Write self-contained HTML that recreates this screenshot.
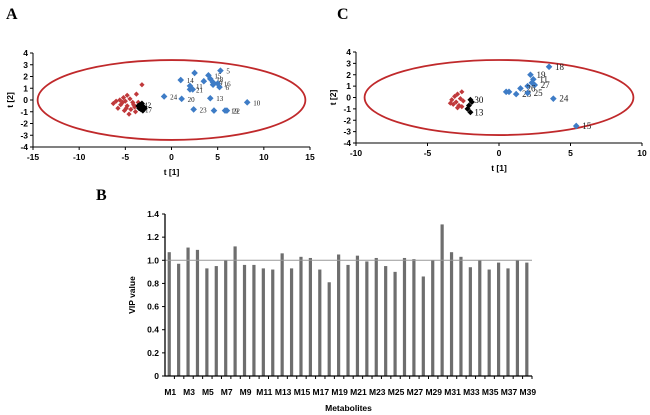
<!DOCTYPE html>
<html><head><meta charset="utf-8"><style>
body{margin:0;background:#fff;width:650px;height:415px;overflow:hidden}
svg{display:block;font-family:"Liberation Sans",Arial,sans-serif}
.tk{font-size:8.5px;font-weight:bold;fill:#000}
.pl{font-family:"Liberation Serif",serif;font-size:16px;font-weight:bold}
</style></head><body>
<svg id="s" width="650" height="415" viewBox="0 0 650 415">
<text class="pl" x="6" y="19">A</text>
<text class="pl" x="337" y="19">C</text>
<text class="pl" x="96" y="200">B</text>
</svg>
<script>
// Panel A data
const aBlueX=[5.3,2.5,4.0,1.0,3.5,4.2,4.5,5.0,4.5,5.2,2.0,2.0,2.3,-0.8,1.1,4.2,8.2,2.4,4.6,6.0,5.8];
const aBlueY=[2.5,2.3,2.1,1.7,1.6,1.8,1.5,1.4,1.3,1.1,1.2,0.9,0.9,0.3,0.1,0.15,-0.2,-0.8,-0.9,-0.9,-0.9];
const aBlueLab=["5","","15","14","","18","9","16","","6","11","21","","24","20","13","10","23","","22","19"];
const aRedX=[-3.2,-3.8,-4.8,-5.2,-5.6,-6.0,-6.3,-5.0,-4.5,-4.2,-5.5,-4.8,-4.0,-5.8,-4.4,-3.9,-5.1,-4.6,-5.3,-4.1,-4.9,-3.6];
const aRedY=[1.3,0.5,0.4,0.2,0.0,-0.1,-0.3,-0.1,0.1,-0.2,-0.4,-0.5,-0.6,-0.7,-0.8,-1.0,-0.9,-1.2,-0.2,-0.4,-0.7,-0.2];
const aBlkX=[-3.4,-3.2,-3.0,-3.5,-3.3,-3.1,-2.9,-3.6,-3.2];
const aBlkY=[-0.4,-0.5,-0.6,-0.7,-0.8,-0.9,-0.7,-0.5,-0.3];
const aBlkLab=["42","","","","17","","","",""];
const aXTicks=[-15,-10,-5,0,5,10,15];
const yTicks=[4,3,2,1,0,-1,-2,-3,-4];
// Panel C data
const cBlueX=[3.5,2.2,2.4,2.3,2.5,2.0,1.5,0.5,0.7,1.2,2.0,3.8,5.4];
const cBlueY=[2.7,2.0,1.6,1.3,1.1,1.0,0.8,0.5,0.5,0.3,0.4,-0.1,-2.5];
const cBlueLab=["18","19","11","","27","","26","","","28","25","24","15"];
const cRedX=[-2.6,-2.9,-3.1,-3.3,-2.7,-3.0,-3.2,-2.8,-2.5,-3.4,-2.9,-2.6];
const cRedY=[0.5,0.3,0.1,-0.2,-0.1,-0.4,-0.6,-0.7,-0.3,-0.5,-0.9,-0.8];
const cBlkX=[-2.0,-1.9,-2.1,-2.2,-2.0];
const cBlkY=[-0.2,-0.4,-0.7,-1.0,-1.3];
const cBlkLab=["30","","","","13"];
const cXTicks=[-10,-5,0,5,10];
// Panel B data
const cats=["M1","M2","M3","M4","M5","M6","M7","M8","M9","M10","M11","M12","M13","M14","M15","M16","M17","M18","M19","M20","M21","M22","M23","M24","M25","M26","M27","M28","M29","M30","M31","M32","M33","M34","M35","M36","M37","M38","M39"];
const vip=[1.07,0.97,1.11,1.09,0.93,0.95,1.0,1.12,0.96,0.96,0.93,0.92,1.06,0.93,1.03,1.02,0.92,0.81,1.05,0.96,1.04,0.99,1.02,0.95,0.90,1.02,1.01,0.86,1.0,1.31,1.07,1.03,0.94,1.0,0.92,0.98,0.93,1.0,0.98];
const bTicks=["0","0.2","0.4","0.6","0.8","1.0","1.2","1.4"];

const NS="http://www.w3.org/2000/svg",svg=document.getElementById('s');
function mk(t,a,p,txt){const e=document.createElementNS(NS,t);for(const k in a)e.setAttribute(k,a[k]);if(txt!==undefined)e.textContent=txt;(p||svg).appendChild(e);return e;}

function scatter(name,x0,x1,y0,y1,xmin,xmax,xt,ex,ey,bx,by,bl,rx,ry,kx,ky,kl,lf){
  const g=mk('g',{});
  
  
  const sx=v=>x0+(v-xmin)/(xmax-xmin)*(x1-x0), sy=v=>y1-(v+4)/8*(y1-y0);
  const el=mk('ellipse',{cx:sx(0),cy:sy(0),rx:sx(ex)-sx(0),ry:sy(0)-sy(ey),fill:'none',stroke:'#c0292b','stroke-width':1.8},g);
  
  
  const ax=mk('path',{d:`M${x0},${y0}V${y1}H${x1}`,fill:'none',stroke:'#000','stroke-width':1},g);
  
  
  yTicks.forEach(v=>{mk('line',{x1:x0-3,x2:x0,y1:sy(v),y2:sy(v),stroke:'#000'},g);
    const t=mk('text',{x:x0-5,y:sy(v)+3,'text-anchor':'end',class:'tk'},g,v);
    
    });
  xt.forEach(v=>{mk('line',{x1:sx(v),x2:sx(v),y1:y1,y2:y1+3,stroke:'#000'},g);
    const t=mk('text',{x:sx(v),y:y1+13,'text-anchor':'middle',class:'tk'},g,v);
    
    });
  const xl=mk('text',{x:(x0+x1)/2,y:y1+28,'text-anchor':'middle',class:'tk','font-size':9},g,'t [1]');
  
  
  const yl=mk('text',{x:0,y:0,'text-anchor':'middle',class:'tk',transform:`translate(${x0-20},${(y0+y1)/2}) rotate(-90)`},g,'t [2]');
  
  
  const dia=(x,y,c,s)=>mk('path',{d:`M${x},${y-s}L${x+s},${y}L${x},${y+s}L${x-s},${y}Z`,fill:c},g);
  rx.forEach((v,i)=>{const d=dia(sx(v),sy(ry[i]),'#c0393b',2.6);});
  kx.forEach((v,i)=>{const d=dia(sx(v),sy(ky[i]),'#000',3);
    if(kl[i])mk('text',{x:sx(v)+4,y:sy(ky[i])+3,'font-size':lf,'font-family':'Liberation Serif,serif'},g,kl[i]);});
  bx.forEach((v,i)=>{const d=dia(sx(v),sy(by[i]),'#3e7cc6',3.3);
    if(bl[i])mk('text',{x:sx(v)+6,y:sy(by[i])+3,'font-size':lf,'font-family':'Liberation Serif,serif',fill:'#222'},g,bl[i]);});
}
scatter('score-plot-a',33,310,53,147,-15,15,aXTicks,14.5,3.4,aBlueX,aBlueY,aBlueLab,aRedX,aRedY,aBlkX,aBlkY,aBlkLab,7);
scatter('score-plot-c',356,642,52,143,-10,10,cXTicks,9.4,3.3,cBlueX,cBlueY,cBlueLab,cRedX,cRedY,cBlkX,cBlkY,cBlkLab,9);

// Bar chart
const g=mk('g',{});


const bx0=165,bx1=532,by0=214,by1=376,step=(bx1-bx0)/cats.length;
const ys=v=>by1-v/1.4*(by1-by0);
cats.forEach((c,i)=>{const cx=bx0+step*(i+0.45);
  const r=mk('rect',{x:cx-1.6,y:ys(vip[i]),width:3.2,height:by1-ys(vip[i]),fill:'#6e6e6e'},g);
  
  
  if(i%2==0){const t=mk('text',{x:cx+1,y:395,'text-anchor':'middle',class:'tk','font-size':8},g,c);
    
    }
  mk('line',{x1:bx0+step*(i+1),x2:bx0+step*(i+1),y1:by1,y2:by1+3,stroke:'#000'},g);
});
const rl=mk('line',{x1:bx0,x2:bx1,y1:ys(1),y2:ys(1),stroke:'#999','stroke-width':1},g);


const bax=mk('path',{d:`M${bx0},${by0}V${by1}H${bx1}`,fill:'none',stroke:'#000','stroke-width':1.3},g);


bTicks.forEach(s=>{const v=parseFloat(s);mk('line',{x1:bx0-3,x2:bx0,y1:ys(v),y2:ys(v),stroke:'#000'},g);
  const t=mk('text',{x:bx0-6,y:ys(v)+3,'text-anchor':'end',class:'tk'},g,s);
  
  });
const bxl=mk('text',{x:(bx0+bx1)/2,y:411,'text-anchor':'middle',class:'tk','font-size':9},g,'Metabolites');


const byl=mk('text',{x:0,y:0,'text-anchor':'middle',class:'tk','font-size':9,transform:`translate(135,${(by0+by1)/2}) rotate(-90)`},g,'VIP value');


</script>
</body></html>
